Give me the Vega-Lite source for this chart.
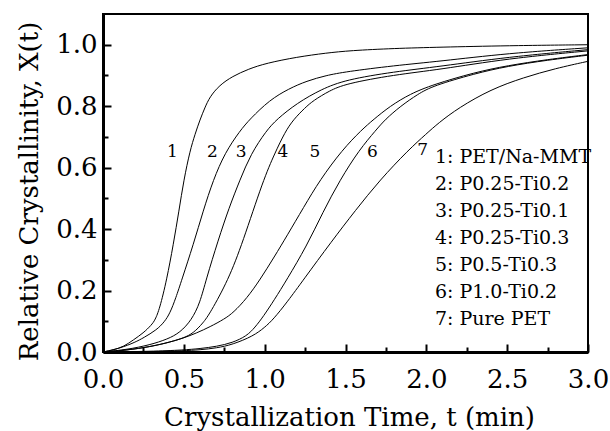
{
  "$schema": "https://vega.github.io/schema/vega-lite/v6.json",
  "width": 485,
  "height": 338,
  "autosize": {"type": "none"},
  "padding": {"left": 103, "top": 14, "right": 22, "bottom": 79},
  "background": "white",
  "config": {
    "view": {"stroke": "black", "strokeWidth": 2},
    "text": {"font": "DejaVu Serif", "color": "black"}
  },
  "datasets": {
    "curves": [
      {"c": "1", "time": 0, "cryst": 0}, {"c": "1", "time": 0.064, "cryst": 0.0065}, {"c": "1", "time": 0.13, "cryst": 0.018}, {"c": "1", "time": 0.187, "cryst": 0.039}, {"c": "1", "time": 0.25, "cryst": 0.062}, {"c": "1", "time": 0.3, "cryst": 0.088}, {"c": "1", "time": 0.322, "cryst": 0.104}, {"c": "1", "time": 0.35, "cryst": 0.14}, {"c": "1", "time": 0.394, "cryst": 0.2345}, {"c": "1", "time": 0.435, "cryst": 0.35}, {"c": "1", "time": 0.47, "cryst": 0.46}, {"c": "1", "time": 0.5, "cryst": 0.56}, {"c": "1", "time": 0.538, "cryst": 0.655}, {"c": "1", "time": 0.57, "cryst": 0.71}, {"c": "1", "time": 0.6, "cryst": 0.756}, {"c": "1", "time": 0.63, "cryst": 0.795}, {"c": "1", "time": 0.66, "cryst": 0.83}, {"c": "1", "time": 0.72, "cryst": 0.868}, {"c": "1", "time": 0.8, "cryst": 0.897}, {"c": "1", "time": 0.9, "cryst": 0.921}, {"c": "1", "time": 1.01, "cryst": 0.94}, {"c": "1", "time": 1.2, "cryst": 0.96}, {"c": "1", "time": 1.38, "cryst": 0.973}, {"c": "1", "time": 1.53, "cryst": 0.981}, {"c": "1", "time": 1.8, "cryst": 0.988}, {"c": "1", "time": 2.08, "cryst": 0.992}, {"c": "1", "time": 2.5, "cryst": 0.997}, {"c": "1", "time": 3.0, "cryst": 1.0},
      {"c": "2", "time": 0, "cryst": 0}, {"c": "2", "time": 0.105, "cryst": 0.012}, {"c": "2", "time": 0.2, "cryst": 0.032}, {"c": "2", "time": 0.25, "cryst": 0.046}, {"c": "2", "time": 0.332, "cryst": 0.072}, {"c": "2", "time": 0.38, "cryst": 0.098}, {"c": "2", "time": 0.414, "cryst": 0.126}, {"c": "2", "time": 0.45, "cryst": 0.175}, {"c": "2", "time": 0.487, "cryst": 0.2345}, {"c": "2", "time": 0.559, "cryst": 0.35}, {"c": "2", "time": 0.62, "cryst": 0.46}, {"c": "2", "time": 0.682, "cryst": 0.56}, {"c": "2", "time": 0.754, "cryst": 0.648}, {"c": "2", "time": 0.847, "cryst": 0.72}, {"c": "2", "time": 0.909, "cryst": 0.758}, {"c": "2", "time": 1.03, "cryst": 0.82}, {"c": "2", "time": 1.15, "cryst": 0.857}, {"c": "2", "time": 1.26, "cryst": 0.882}, {"c": "2", "time": 1.38, "cryst": 0.9}, {"c": "2", "time": 1.5, "cryst": 0.912}, {"c": "2", "time": 1.8, "cryst": 0.932}, {"c": "2", "time": 2.08, "cryst": 0.946}, {"c": "2", "time": 2.5, "cryst": 0.972}, {"c": "2", "time": 3.0, "cryst": 0.99},
      {"c": "3", "time": 0, "cryst": 0}, {"c": "3", "time": 0.15, "cryst": 0.008}, {"c": "3", "time": 0.29, "cryst": 0.023}, {"c": "3", "time": 0.4, "cryst": 0.042}, {"c": "3", "time": 0.476, "cryst": 0.063}, {"c": "3", "time": 0.548, "cryst": 0.104}, {"c": "3", "time": 0.6, "cryst": 0.16}, {"c": "3", "time": 0.637, "cryst": 0.2345}, {"c": "3", "time": 0.713, "cryst": 0.365}, {"c": "3", "time": 0.78, "cryst": 0.47}, {"c": "3", "time": 0.847, "cryst": 0.56}, {"c": "3", "time": 0.915, "cryst": 0.645}, {"c": "3", "time": 1.01, "cryst": 0.72}, {"c": "3", "time": 1.074, "cryst": 0.757}, {"c": "3", "time": 1.2, "cryst": 0.81}, {"c": "3", "time": 1.35, "cryst": 0.855}, {"c": "3", "time": 1.5, "cryst": 0.886}, {"c": "3", "time": 1.8, "cryst": 0.912}, {"c": "3", "time": 2.08, "cryst": 0.929}, {"c": "3", "time": 2.5, "cryst": 0.96}, {"c": "3", "time": 3.0, "cryst": 0.984},
      {"c": "4", "time": 0, "cryst": 0}, {"c": "4", "time": 0.15, "cryst": 0.006}, {"c": "4", "time": 0.29, "cryst": 0.017}, {"c": "4", "time": 0.42, "cryst": 0.033}, {"c": "4", "time": 0.5, "cryst": 0.046}, {"c": "4", "time": 0.558, "cryst": 0.061}, {"c": "4", "time": 0.62, "cryst": 0.095}, {"c": "4", "time": 0.662, "cryst": 0.126}, {"c": "4", "time": 0.775, "cryst": 0.2345}, {"c": "4", "time": 0.863, "cryst": 0.355}, {"c": "4", "time": 0.991, "cryst": 0.56}, {"c": "4", "time": 1.064, "cryst": 0.648}, {"c": "4", "time": 1.125, "cryst": 0.715}, {"c": "4", "time": 1.177, "cryst": 0.756}, {"c": "4", "time": 1.25, "cryst": 0.795}, {"c": "4", "time": 1.3, "cryst": 0.818}, {"c": "4", "time": 1.4, "cryst": 0.85}, {"c": "4", "time": 1.5, "cryst": 0.873}, {"c": "4", "time": 1.8, "cryst": 0.902}, {"c": "4", "time": 2.08, "cryst": 0.919}, {"c": "4", "time": 2.5, "cryst": 0.955}, {"c": "4", "time": 3.0, "cryst": 0.98},
      {"c": "5", "time": 0, "cryst": 0}, {"c": "5", "time": 0.15, "cryst": 0.006}, {"c": "5", "time": 0.29, "cryst": 0.017}, {"c": "5", "time": 0.4, "cryst": 0.03}, {"c": "5", "time": 0.497, "cryst": 0.045}, {"c": "5", "time": 0.58, "cryst": 0.062}, {"c": "5", "time": 0.662, "cryst": 0.082}, {"c": "5", "time": 0.75, "cryst": 0.107}, {"c": "5", "time": 0.806, "cryst": 0.128}, {"c": "5", "time": 0.89, "cryst": 0.175}, {"c": "5", "time": 0.971, "cryst": 0.235}, {"c": "5", "time": 1.06, "cryst": 0.31}, {"c": "5", "time": 1.14, "cryst": 0.38}, {"c": "5", "time": 1.24, "cryst": 0.47}, {"c": "5", "time": 1.342, "cryst": 0.56}, {"c": "5", "time": 1.48, "cryst": 0.658}, {"c": "5", "time": 1.6, "cryst": 0.723}, {"c": "5", "time": 1.672, "cryst": 0.756}, {"c": "5", "time": 1.775, "cryst": 0.8}, {"c": "5", "time": 1.9, "cryst": 0.84}, {"c": "5", "time": 2.04, "cryst": 0.87}, {"c": "5", "time": 2.3, "cryst": 0.91}, {"c": "5", "time": 2.5, "cryst": 0.932}, {"c": "5", "time": 2.75, "cryst": 0.952}, {"c": "5", "time": 3.0, "cryst": 0.968},
      {"c": "6", "time": 0, "cryst": 0}, {"c": "6", "time": 0.3, "cryst": 0.002}, {"c": "6", "time": 0.5, "cryst": 0.0065}, {"c": "6", "time": 0.6, "cryst": 0.011}, {"c": "6", "time": 0.703, "cryst": 0.018}, {"c": "6", "time": 0.8, "cryst": 0.03}, {"c": "6", "time": 0.889, "cryst": 0.052}, {"c": "6", "time": 0.94, "cryst": 0.08}, {"c": "6", "time": 0.991, "cryst": 0.115}, {"c": "6", "time": 1.06, "cryst": 0.17}, {"c": "6", "time": 1.136, "cryst": 0.2345}, {"c": "6", "time": 1.26, "cryst": 0.345}, {"c": "6", "time": 1.36, "cryst": 0.455}, {"c": "6", "time": 1.466, "cryst": 0.56}, {"c": "6", "time": 1.585, "cryst": 0.658}, {"c": "6", "time": 1.69, "cryst": 0.723}, {"c": "6", "time": 1.744, "cryst": 0.756}, {"c": "6", "time": 1.84, "cryst": 0.8}, {"c": "6", "time": 1.95, "cryst": 0.84}, {"c": "6", "time": 2.04, "cryst": 0.866}, {"c": "6", "time": 2.3, "cryst": 0.906}, {"c": "6", "time": 2.5, "cryst": 0.93}, {"c": "6", "time": 2.75, "cryst": 0.95}, {"c": "6", "time": 3.0, "cryst": 0.966},
      {"c": "7", "time": 0, "cryst": 0}, {"c": "7", "time": 0.3, "cryst": 0.001}, {"c": "7", "time": 0.5, "cryst": 0.004}, {"c": "7", "time": 0.6, "cryst": 0.007}, {"c": "7", "time": 0.703, "cryst": 0.013}, {"c": "7", "time": 0.8, "cryst": 0.024}, {"c": "7", "time": 0.93, "cryst": 0.052}, {"c": "7", "time": 1.0, "cryst": 0.08}, {"c": "7", "time": 1.053, "cryst": 0.106}, {"c": "7", "time": 1.14, "cryst": 0.163}, {"c": "7", "time": 1.239, "cryst": 0.2345}, {"c": "7", "time": 1.414, "cryst": 0.36}, {"c": "7", "time": 1.56, "cryst": 0.46}, {"c": "7", "time": 1.713, "cryst": 0.56}, {"c": "7", "time": 1.89, "cryst": 0.658}, {"c": "7", "time": 2.0, "cryst": 0.71}, {"c": "7", "time": 2.074, "cryst": 0.745}, {"c": "7", "time": 2.2, "cryst": 0.795}, {"c": "7", "time": 2.4, "cryst": 0.855}, {"c": "7", "time": 2.6, "cryst": 0.893}, {"c": "7", "time": 2.8, "cryst": 0.923}, {"c": "7", "time": 3.0, "cryst": 0.946}
    ],
    "labels": [
      {"label": "1", "time": 0.43, "cryst": 0.636},
      {"label": "2", "time": 0.677, "cryst": 0.636},
      {"label": "3", "time": 0.855, "cryst": 0.636},
      {"label": "4", "time": 1.113, "cryst": 0.636},
      {"label": "5", "time": 1.311, "cryst": 0.636},
      {"label": "6", "time": 1.667, "cryst": 0.636},
      {"label": "7", "time": 1.977, "cryst": 0.642}
    ],
    "legend": [
      {"label": "1: PET/Na-MMT", "time": 2.053, "cryst": 0.6147},
      {"label": "2: P0.25-Ti0.2", "time": 2.053, "cryst": 0.527},
      {"label": "3: P0.25-Ti0.1", "time": 2.053, "cryst": 0.4394},
      {"label": "4: P0.25-Ti0.3", "time": 2.053, "cryst": 0.3518},
      {"label": "5: P0.5-Ti0.3", "time": 2.053, "cryst": 0.2642},
      {"label": "6: P1.0-Ti0.2", "time": 2.053, "cryst": 0.1765},
      {"label": "7: Pure PET", "time": 2.053, "cryst": 0.0889}
    ]
  },
  "encoding": {
    "x": {
      "field": "time",
      "type": "quantitative",
      "scale": {"domain": [0, 3], "nice": false, "zero": false},
      "axis": {
        "values": [0, 0.25, 0.5, 0.75, 1, 1.25, 1.5, 1.75, 2, 2.25, 2.5, 2.75, 3],
        "labelExpr": "round(datum.value*4)%2==0 ? format(datum.value,'.1f') : ''",
        "tickSize": {"condition": {"test": "round(datum.value*4)%2==0", "value": -8}, "value": -5},
        "labelPadding": 22,
        "labelFlush": false,
        "labelOverlap": false,
        "labelFont": "DejaVu Serif",
        "labelFontSize": 26,
        "labelColor": "black",
        "grid": false,
        "domainColor": "black",
        "domainWidth": 3,
        "tickColor": "black",
        "tickWidth": 2,
        "title": "Crystallization Time, t (min)",
        "titleFont": "DejaVu Serif",
        "titleFontSize": 26,
        "titleFontWeight": "normal",
        "titleColor": "black",
        "titleX": 246,
        "titleY": 73,
        "titleAlign": "center",
        "titleBaseline": "alphabetic"
      }
    },
    "y": {
      "field": "cryst",
      "type": "quantitative",
      "scale": {"domain": [0, 1.1], "nice": false},
      "axis": {
        "values": [0, 0.1, 0.2, 0.3, 0.4, 0.5, 0.6, 0.7, 0.8, 0.9, 1.0],
        "labelExpr": "round(datum.value*10)%2==0 ? format(datum.value,'.1f') : ''",
        "tickSize": {"condition": {"test": "round(datum.value*10)%2==0", "value": -8}, "value": -5},
        "labelPadding": 14,
        "labelOverlap": false,
        "labelFlush": false,
        "labelFont": "DejaVu Serif",
        "labelFontSize": 26,
        "labelColor": "black",
        "grid": false,
        "domainColor": "black",
        "domainWidth": 3,
        "tickColor": "black",
        "tickWidth": 2,
        "title": "Relative Crystallinity, X(t)",
        "titleFont": "DejaVu Serif",
        "titleFontSize": 26,
        "titleFontWeight": "normal",
        "titleColor": "black",
        "titleAngle": -90,
        "titleX": -66,
        "titleY": 177,
        "titleAlign": "center",
        "titleBaseline": "alphabetic"
      }
    }
  },
  "layer": [
    {
      "data": {"name": "curves"},
      "mark": {"type": "line", "color": "black", "strokeWidth": 1, "interpolate": "basis"},
      "encoding": {"detail": {"field": "c", "type": "nominal"}}
    },
    {
      "data": {"name": "labels"},
      "mark": {"type": "text", "fontSize": 17, "align": "center", "baseline": "alphabetic", "font": "DejaVu Serif", "color": "black"},
      "encoding": {"text": {"field": "label", "type": "nominal"}}
    },
    {
      "data": {"name": "legend"},
      "mark": {"type": "text", "fontSize": 19, "align": "left", "baseline": "alphabetic", "font": "DejaVu Serif", "color": "black"},
      "encoding": {"text": {"field": "label", "type": "nominal"}}
    }
  ]
}
